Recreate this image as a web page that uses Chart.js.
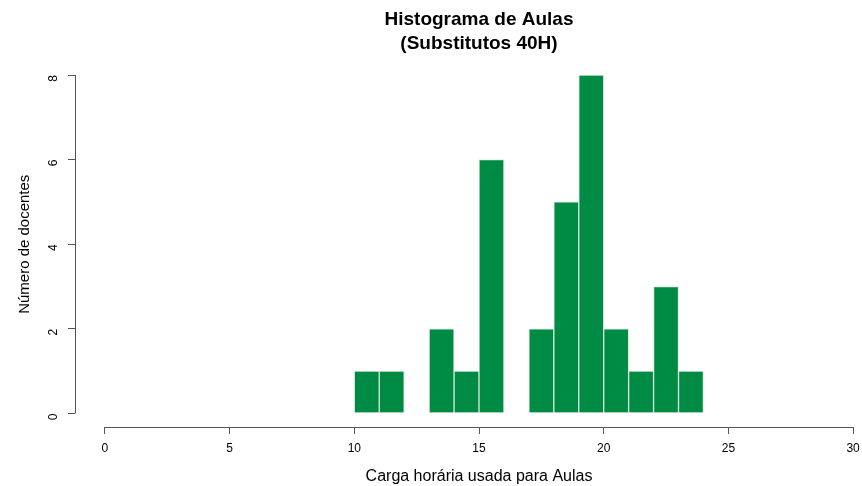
<!DOCTYPE html>
<html>
<head>
<meta charset="utf-8">
<script src="https://cdn.jsdelivr.net/npm/chart.js@4.4.1/dist/chart.umd.min.js"></script>
<style>
  html, body { margin: 0; padding: 0; background: #fff; overflow: hidden; }
  #wrap { width: 884px; height: 486px; }
</style>
</head>
<body>
<div id="wrap"><canvas id="myChart"></canvas></div>
<script>
// histogram bins (left edge, width 1) and counts
var binStarts = [10, 11, 12, 13, 14, 15, 16, 17, 18, 19, 20, 21, 22, 23];
var counts = [1, 1, 0, 2, 1, 6, 0, 2, 5, 8, 2, 1, 3, 1];
var xTicks = [0, 5, 10, 15, 20, 25, 30];
var yTicks = [0, 2, 4, 6, 8];
var titleLines = ["Histograma de Aulas", "(Substitutos 40H)"];

var NARROW = "'Liberation Sans Narrow', 'Liberation Sans', Arial, sans-serif";
var SANS = "'Liberation Sans', Arial, sans-serif";

var bars = [];
for (var i = 0; i < binStarts.length; i++) {
    if (counts[i] > 0) {
        bars.push({x: binStarts[i] + 0.5, y: counts[i]});
    }
}

// R style detached axis lines + title centred over the plot region
var rAxes = {
    id: 'rAxes',
    afterDraw: function (chart) {
        var ctx = chart.ctx;
        var xs = chart.scales.x, ys = chart.scales.y;
        ctx.save();
        ctx.strokeStyle = '#555';
        ctx.lineWidth = 1;
        ctx.beginPath();
        ctx.moveTo(xs.getPixelForValue(xTicks[0]), chart.chartArea.bottom + 0.5);
        ctx.lineTo(xs.getPixelForValue(xTicks[xTicks.length - 1]), chart.chartArea.bottom + 0.5);
        ctx.moveTo(chart.chartArea.left + 0.5, ys.getPixelForValue(yTicks[0]));
        ctx.lineTo(chart.chartArea.left + 0.5, ys.getPixelForValue(yTicks[yTicks.length - 1]));
        ctx.stroke();

        ctx.fillStyle = '#000';
        ctx.font = "bold 19px " + NARROW;
        ctx.textAlign = 'center';
        ctx.textBaseline = 'middle';
        var cx = xs.getPixelForValue(15);
        ctx.fillText(titleLines[0], cx, 20);
        ctx.fillText(titleLines[1], cx, 44);
        ctx.restore();
    }
};

var ctx = document.getElementById("myChart").getContext('2d');
var myChart = new Chart(ctx, {
    type: 'bar',
    data: {
        datasets: [{
            data: bars,
            backgroundColor: '#008B45',
            borderColor: '#d6e9dc',
            borderWidth: 1,
            borderSkipped: false,
            barPercentage: 1,
            categoryPercentage: 1
        }]
    },
    options: {
        responsive: true,
        maintainAspectRatio: false,
        animation: false,
        layout: {
            padding: {top: 61.5, right: 1, left: 0, bottom: 0}
        },
        plugins: {
            legend: {display: false},
            tooltip: {enabled: false},
            title: {display: false}
        },
        scales: {
            x: {
                type: 'linear',
                min: -1.2,
                max: 31.2,
                offset: false,
                afterBuildTicks: function (scale) {
                    scale.ticks = xTicks.map(function (v) { return {value: v}; });
                },
                afterFit: function (scale) { scale.height = 59; },
                border: {display: false},
                grid: {
                    display: true,
                    offset: false,
                    drawOnChartArea: false,
                    drawTicks: true,
                    tickLength: 7,
                    color: '#555'
                },
                ticks: {
                    color: '#000',
                    padding: 7,
                    maxRotation: 0,
                    font: {family: NARROW, size: 12}
                },
                title: {
                    display: true,
                    text: 'Carga horária usada para Aulas',
                    color: '#000',
                    padding: {top: 0, bottom: 0},
                    font: {family: SANS, size: 16}
                }
            },
            y: {
                min: -0.32,
                max: 8.32,
                afterBuildTicks: function (scale) {
                    scale.ticks = yTicks.map(function (v) { return {value: v}; });
                },
                afterFit: function (scale) { scale.width = 75; },
                border: {display: false},
                grid: {
                    display: true,
                    drawOnChartArea: false,
                    drawTicks: true,
                    tickLength: 7,
                    color: '#555'
                },
                ticks: {
                    color: '#000',
                    padding: 14,
                    minRotation: 90,
                    maxRotation: 90,
                    font: {family: NARROW, size: 12}
                },
                title: {
                    display: true,
                    text: 'Número de docentes',
                    color: '#000',
                    padding: {top: 16, bottom: 0},
                    font: {family: SANS, size: 15}
                }
            }
        }
    },
    plugins: [rAxes]
});
</script>
</body>
</html>
